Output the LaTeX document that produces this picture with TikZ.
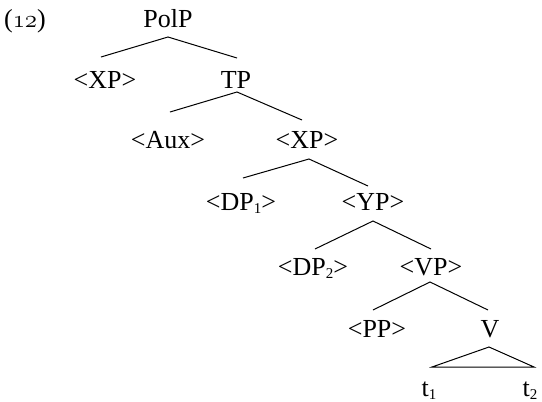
\documentclass[tikz,border=0pt]{standalone}
\usepackage{fontspec}
\setmainfont{Liberation Serif}
\newcommand\osn[1]{{\usefont{OML}{cmm}{m}{it}#1}}
\newcommand\sbs[1]{\raisebox{-3pt}{\fontsize{15}{15}\selectfont #1}}
\begin{document}
\begin{tikzpicture}[x=1pt,y=-1pt,
  lbl/.style={anchor=base, inner sep=0pt, font=\fontsize{26}{30}\selectfont},
  br/.style={line width=1pt, black}]
\useasboundingbox (0,0) rectangle (542,402);
\node[lbl] (ex) at (25,27) {(\osn{12})};
\node[lbl] (PolP) at (168,27) {PolP};
\node[lbl] (XPa) at (105,88) {\textless XP\textgreater};
\node[lbl] (TP) at (236,88) {TP};
\node[lbl] (Aux) at (168,148) {\textless Aux\textgreater};
\node[lbl] (XPb) at (307,148) {\textless XP\textgreater};
\node[lbl] (DPa) at (241,210) {\textless DP\sbs{1}\textgreater};
\node[lbl] (YP) at (373,210) {\textless YP\textgreater};
\node[lbl] (DPb) at (313,275) {\textless DP\sbs{2}\textgreater};
\node[lbl] (VP) at (431,275) {\textless VP\textgreater};
\node[lbl] (PP) at (377,337) {\textless PP\textgreater};
\node[lbl] (V) at (490,337) {V};
\node[lbl] (ta) at (429,396) {t\sbs{1}};
\node[lbl] (tb) at (530,396) {t\sbs{2}};
% PolP
\draw[br] ([xshift=-4pt,yshift=31pt]XPa.base) -- ([yshift=-10pt]PolP.base) -- ([xshift=1pt,yshift=30pt]TP.base);
% TP
\draw[br] ([xshift=2pt,yshift=36pt]Aux.base) -- ([xshift=1pt,yshift=-4pt]TP.base) -- ([xshift=-5pt,yshift=28pt]XPb.base);
% XP
\draw[br] ([xshift=2pt,yshift=32pt]DPa.base) -- ([xshift=2pt,yshift=-11pt]XPb.base) -- ([xshift=-5pt,yshift=24pt]YP.base);
% YP
\draw[br] ([xshift=2pt,yshift=26pt]DPb.base) -- ([yshift=-11pt]YP.base) -- ([yshift=26pt]VP.base);
% VP
\draw[br] ([xshift=-4pt,yshift=27pt]PP.base) -- ([xshift=-1pt,yshift=-7pt]VP.base) -- ([xshift=-2pt,yshift=27pt]V.base);
% triangle
\draw[br] ([xshift=-1pt,yshift=-10pt]V.base) -- ([xshift=3pt,yshift=29pt]ta.base) -- ([xshift=4pt,yshift=29pt]tb.base) -- cycle;
\end{tikzpicture}
\end{document}
